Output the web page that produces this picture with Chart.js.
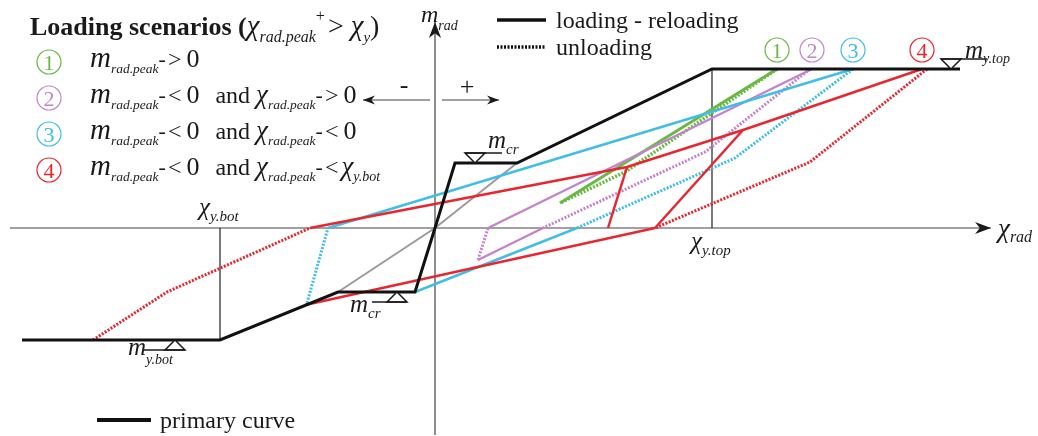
<!DOCTYPE html>
<html>
<head>
<meta charset="utf-8">
<script src="https://cdn.jsdelivr.net/npm/chart.js@4.4.1/dist/chart.umd.min.js"></script>
<style>
    html, body { margin: 0; padding: 0; background: #fff; }
    #wrap { width: 1038px; height: 436px; }
</style>
</head>
<body>
<div id="wrap"><canvas id="momentChart" width="1038" height="436"></canvas></div>
<script>
// Moment - curvature paths, [chi_rad, m_rad] in drawing units (origin = axis cross)
const primaryCurve = [[-413, -112], [-215, -112], [-97, -64], [-20, -64], [0, 0], [20, 65], [82, 65], [277, 159], [525, 159]];
const crackedLine  = [[-97, -64], [0, 0], [82, 65]];

// scenario 1 (green)
const s1Unload = [[342, 159], [190, 56], [125, 25]];
const s1Reload = [[125, 25], [342, 159]];
// scenario 2 (purple)
const s2Unload   = [[375, 159], [270, 76], [108, 0]];
const s2Negative = [[108, 0], [43, -32]];
const s2Unload2  = [[43, -32], [53, 0]];
const s2Reload   = [[53, 0], [377, 159]];
// scenario 3 (cyan)
const s3Unload   = [[418, 159], [300, 70], [142, 0]];
const s3Negative = [[142, 0], [-20, -64]];
const s3Unload2  = [[-128, -75], [-107, 0]];
const s3Reload   = [[-107, 0], [418, 159]];
// scenario 4 (red)
const s4Unload   = [[492, 159], [375, 66], [220, 0]];
const s4Negative = [[220, 0], [-130, -77]];
const s4Unload2  = [[-342, -112], [-268, -64], [-125, 0]];
const s4Reload   = [[-125, 0], [192, 61], [308, 98], [487, 159]];
const s4Inner1   = [[192, 61], [173, 0]];
const s4Inner2   = [[308, 98], [220, 0]];

// reference lines and axes
const chiYTopLine = [[277, 159], [277, 0]];
const chiYBotLine = [[-215, 0], [-215, -112]];
const axisChi = [[-425, 0], [556, 0]];
const axisM   = [[0, -207], [0, 206]];
const signNeg = [[-5, 128], [-72, 128]];
const signPos = [[7, 128], [64, 128]];

// scenario labels (number, top chi)
const scenarioNums = ['1', '2', '3', '4'];
const scenarioTops = [342, 377, 418, 487];

const GREEN = '#6cb844', PURPLE = '#c384cc', CYAN = '#41bde6', RED = '#e8262f', GREY = '#9a9a9a';
const scenarioColors = [GREEN, PURPLE, CYAN, RED];

const SERIF = '"Liberation Serif", "Times New Roman", serif';
const IT = s => 'italic ' + s + 'px ' + SERIF;
const RG = s => s + 'px ' + SERIF;
const BD = s => 'bold ' + s + 'px ' + SERIF;

function path(pts, color, width, dotted, extra) {
    return Object.assign({
        data: pts.map(p => ({ x: p[0], y: p[1] })),
        showLine: true,
        borderColor: color,
        backgroundColor: color,
        borderWidth: width,
        borderDash: dotted ? [2, 1.5] : [],
        borderCapStyle: 'butt',
        borderJoinStyle: 'miter',
        pointRadius: 0,
        pointHoverRadius: 0,
        fill: false,
        tension: 0
    }, extra || {});
}

// write a row of text pieces: [text, font, dy, extra gap]
function runs(ctx, x, y, parts) {
    parts.forEach(p => {
        ctx.font = p[1];
        ctx.fillText(p[0], x, y + (p[2] || 0));
        x += ctx.measureText(p[0]).width + (p[3] || 0);
    });
    return x;
}

function arrowHead(ctx, x0, y0, x1, y1, len, half) {
    const a = Math.atan2(y1 - y0, x1 - x0);
    ctx.save();
    ctx.translate(x1, y1);
    ctx.rotate(a);
    ctx.beginPath();
    ctx.moveTo(0, 0);
    ctx.lineTo(-len, -half);
    ctx.lineTo(-len * 0.7, 0);
    ctx.lineTo(-len, half);
    ctx.closePath();
    ctx.fill();
    ctx.restore();
}

function support(ctx, x, y, up, lineFrom, lineTo) {
    const base = up ? y + 10 : y - 10;
    ctx.beginPath();
    ctx.moveTo(x, y);
    ctx.lineTo(x - 10, base);
    ctx.lineTo(x + 10, base);
    ctx.closePath();
    ctx.fillStyle = '#fff';
    ctx.fill();
    ctx.stroke();
    ctx.beginPath();
    ctx.moveTo(lineFrom, base);
    ctx.lineTo(lineTo, base);
    ctx.stroke();
}

const annotations = {
    id: 'annotations',
    afterDatasetsDraw(chart) {
        const ctx = chart.ctx;
        const X = v => chart.scales.x.getPixelForValue(v);
        const Y = v => chart.scales.y.getPixelForValue(v);
        ctx.save();
        ctx.fillStyle = '#1a1a1a';
        ctx.strokeStyle = '#1a1a1a';

        // arrow heads on axes and sign arrows
        chart.data.datasets.forEach(ds => {
            if (!ds.arrow) return;
            const n = ds.data.length;
            const a = ds.data[n - 2], b = ds.data[n - 1];
            ctx.fillStyle = '#1a1a1a';
            arrowHead(ctx, X(a.x), Y(a.y), X(b.x), Y(b.y), ds.arrow, ds.arrow * 0.38);
        });

        // supports
        ctx.lineWidth = 1.5;
        support(ctx, X(40), Y(65), false, X(40) - 10, X(40) + 27);
        support(ctx, X(-38), Y(-64), true, X(-38) - 25, X(-38) + 10);
        support(ctx, X(-260), Y(-112), true, X(-260) - 32, X(-260) + 10);
        support(ctx, X(516), Y(159), false, X(516) - 10, X(516) + 36);

        ctx.fillStyle = '#1a1a1a';
        ctx.textAlign = 'left';
        ctx.textBaseline = 'alphabetic';
        runs(ctx, X(40) + 13, Y(65) - 15, [['m', IT(25)], ['cr', IT(15), 6]]);
        runs(ctx, X(-38) - 47, Y(-64) + 20, [['m', IT(25)], ['cr', IT(15), 6]]);
        runs(ctx, X(-260) - 47, Y(-112) + 15, [['m', IT(25)], ['y.bot', IT(14), 9]]);
        runs(ctx, X(516) + 14, Y(159) - 11, [['m', IT(25)], ['y.top', IT(14), 5]]);

        // axis labels
        runs(ctx, X(563), Y(0) + 9, [['χ', IT(27)], ['rad', IT(16), 5]]);
        runs(ctx, X(0) - 14, Y(206), [['m', IT(24)], ['rad', IT(14), 8]]);
        runs(ctx, X(-236), Y(0) - 13, [['χ', IT(25)], ['y.bot', IT(15), 6]]);
        runs(ctx, X(256), Y(0) + 21, [['χ', IT(25)], ['y.top', IT(15), 6]]);

        ctx.textAlign = 'center';
        ctx.font = RG(26);
        ctx.fillText('-', X(-31), Y(128) - 7);
        ctx.fillText('+', X(32), Y(128) - 5);

        // scenario circles above plateau
        ctx.lineWidth = 1.2;
        scenarioTops.forEach((c, i) => {
            const cx = X(c), cy = Y(159) - 19;
            ctx.strokeStyle = scenarioColors[i];
            ctx.fillStyle = scenarioColors[i];
            ctx.beginPath();
            ctx.arc(cx, cy, 12, 0, Math.PI * 2);
            ctx.stroke();
            ctx.font = RG(22);
            ctx.fillText(scenarioNums[i], cx, cy + 8);
        });

        // legend: scenarios
        ctx.textAlign = 'left';
        ctx.fillStyle = '#1a1a1a';
        runs(ctx, 30, 35, [['Loading scenarios (', BD(26)], ['χ', IT(29)], ['rad.peak', IT(16), 7],
            ['+', RG(16), -14, 3], ['> ', RG(28)], ['χ', IT(29)], ['y', IT(15), 7], [')', RG(28)]]);

        const mPeak = [['m', IT(29)], ['rad.peak', IT(13.5), 6], ['-', RG(22), -1, 2]];
        const chiPeak = [['χ', IT(27)], ['rad.peak', IT(13.5), 6], ['-', RG(22), -1, 2]];
        const rows = [
            mPeak.concat([['>', RG(24), 0, 5], ['0', RG(26)]]),
            mPeak.concat([['<', RG(24), 0, 5], ['0', RG(26), 0, 4], ['  and ', RG(24)]], chiPeak, [['>', RG(24), 0, 5], ['0', RG(26)]]),
            mPeak.concat([['<', RG(24), 0, 5], ['0', RG(26), 0, 4], ['  and ', RG(24)]], chiPeak, [['<', RG(24), 0, 5], ['0', RG(26)]]),
            mPeak.concat([['<', RG(24), 0, 5], ['0', RG(26), 0, 4], ['  and ', RG(24)]], chiPeak, [['<', RG(24), 0, 3], ['χ', IT(27)], ['y.bot', IT(14), 6]])
        ];
        rows.forEach((parts, i) => {
            const cy = 62 + 36 * i;
            ctx.strokeStyle = scenarioColors[i];
            ctx.fillStyle = scenarioColors[i];
            ctx.beginPath();
            ctx.arc(49, cy, 12, 0, Math.PI * 2);
            ctx.stroke();
            ctx.textAlign = 'center';
            ctx.font = RG(22);
            ctx.fillText(scenarioNums[i], 49, cy + 8);
            ctx.textAlign = 'left';
            ctx.fillStyle = '#1a1a1a';
            runs(ctx, 90, cy + 5, parts);
        });

        // legend: line types
        ctx.strokeStyle = '#111';
        ctx.lineWidth = 3.5;
        ctx.beginPath(); ctx.moveTo(497, 20); ctx.lineTo(546, 20); ctx.stroke();
        ctx.setLineDash([2, 1.5]);
        ctx.beginPath(); ctx.moveTo(497, 47); ctx.lineTo(546, 47); ctx.stroke();
        ctx.setLineDash([]);
        ctx.lineWidth = 4;
        ctx.beginPath(); ctx.moveTo(97, 420); ctx.lineTo(151, 420); ctx.stroke();
        ctx.fillStyle = '#1a1a1a';
        ctx.font = RG(24);
        ctx.fillText('loading - reloading', 556, 28);
        ctx.fillText('unloading', 556, 55);
        ctx.fillText('primary curve', 160, 428);
        ctx.restore();
    }
};

new Chart(document.getElementById('momentChart').getContext('2d'), {
    type: 'scatter',
    data: {
        datasets: [
            path(primaryCurve, '#111', 3),
            path(s4Inner1, RED, 2.5, false),
            path(s4Inner2, RED, 2.5, false),
            path(s4Reload, RED, 2.5, false),
            path(s4Negative, RED, 2.5, false),
            path(s4Unload, RED, 3, true),
            path(s4Unload2, RED, 3, true),
            path(s3Reload, CYAN, 2.5, false),
            path(s3Negative, CYAN, 2.5, false),
            path(s3Unload, CYAN, 3, true),
            path(s3Unload2, CYAN, 3, true),
            path(s2Reload, PURPLE, 2.5, false),
            path(s2Negative, PURPLE, 2.5, false),
            path(s2Unload, PURPLE, 3, true),
            path(s2Unload2, PURPLE, 3, true),
            path(s1Reload, GREEN, 3, false),
            path(s1Unload, GREEN, 3.5, true),
            path(crackedLine, GREY, 2, false),
            path(chiYTopLine, '#222', 1.2, false),
            path(chiYBotLine, '#222', 1.2, false),
            path(axisChi, '#444', 1.2, false, { arrow: 16 }),
            path(axisM, '#444', 1.2, false, { arrow: 16 }),
            path(signNeg, '#444', 1.2, false, { arrow: 12 }),
            path(signPos, '#444', 1.2, false, { arrow: 12 })
        ]
    },
    options: {
        responsive: false,
        animation: false,
        layout: { padding: 0 },
        plugins: {
            legend: { display: false },
            tooltip: { enabled: false }
        },
        scales: {
            x: { type: 'linear', min: -435, max: 603, display: false },
            y: { type: 'linear', min: -208, max: 228, display: false }
        }
    },
    plugins: [annotations]
});
</script>
</body>
</html>
